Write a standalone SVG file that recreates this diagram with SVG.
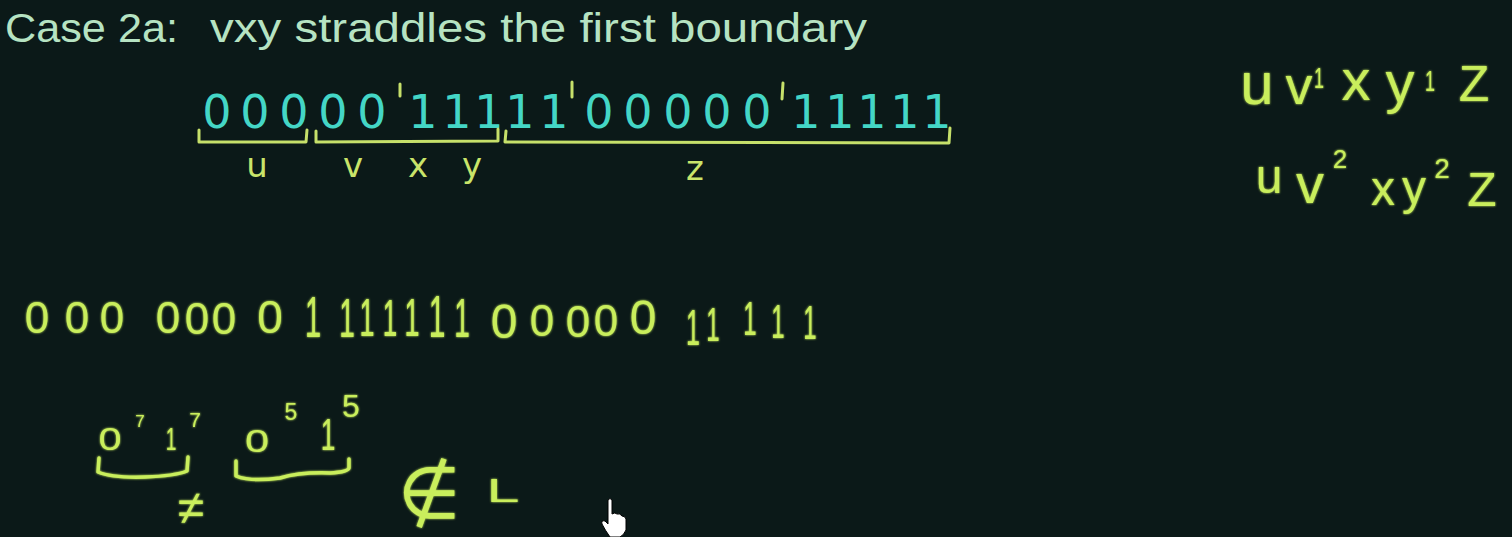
<svg xmlns="http://www.w3.org/2000/svg" width="1512" height="537" viewBox="0 0 1512 537">
<defs>
<filter id="glow" x="-20%" y="-20%" width="140%" height="140%">
<feGaussianBlur stdDeviation="1.2" result="b"/>
<feMerge><feMergeNode in="b"/><feMergeNode in="SourceGraphic"/></feMerge>
</filter>
<style>
.title{font-family:"Liberation Sans","DejaVu Sans",sans-serif;font-size:40px;fill:#b6e3c2}
.cy{font-family:"DejaVu Sans","Liberation Sans",sans-serif;font-size:46px;fill:#44d6c6;text-anchor:middle}
.lb{font-family:"DejaVu Sans","Liberation Sans",sans-serif;font-size:34px;fill:#c9e46a;text-anchor:middle}
.hw{font-family:"Liberation Sans","DejaVu Sans",sans-serif;fill:#c9ee5c;text-anchor:middle}
.br{fill:none;stroke:#c6e06a;stroke-width:3;stroke-linejoin:round;stroke-linecap:round}
.hb{fill:none;stroke:#c9ee5c;stroke-width:3.5;stroke-linejoin:round;stroke-linecap:round}
</style>
</defs>
<rect width="1512" height="537" fill="#0b1918"/>

<g id="title">
<text class="title" x="5" y="42" textLength="173" lengthAdjust="spacingAndGlyphs">Case 2a:</text>
<text class="title" x="210" y="42" textLength="657" lengthAdjust="spacingAndGlyphs">vxy straddles the first boundary</text>
</g>

<g id="string">
<text class="cy" x="217" y="128">0</text>
<text class="cy" x="255" y="128">0</text>
<text class="cy" x="294" y="128">0</text>
<text class="cy" x="333" y="128">0</text>
<text class="cy" x="372" y="128">0</text>
<text class="cy" x="423" y="128">1</text>
<text class="cy" x="457" y="128">1</text>
<text class="cy" x="489" y="128">1</text>
<text class="cy" x="520" y="128">1</text>
<text class="cy" x="554" y="128">1</text>
<text class="cy" x="599" y="128">0</text>
<text class="cy" x="638" y="128">0</text>
<text class="cy" x="678" y="128">0</text>
<text class="cy" x="717" y="128">0</text>
<text class="cy" x="757" y="128">0</text>
<text class="cy" x="806" y="128">1</text>
<text class="cy" x="840" y="128">1</text>
<text class="cy" x="872" y="128">1</text>
<text class="cy" x="905" y="128">1</text>
<text class="cy" x="937" y="128">1</text>
</g>

<g id="ticks">
<path class="br" d="M400,84 L400,96 M572,82 L572,97 M783,83 L782,99"/>
</g>

<g id="brackets">
<path class="br" d="M199,130 L199,142 L306,142 L307,130"/>
<path class="br" d="M316,131 L316,142 L498,141 L498,129"/>
<path class="br" d="M506,131 L505,142 L949,143 L950,128"/>
</g>

<g id="labels">
<text class="lb" x="257" y="177">u</text>
<text class="lb" x="353" y="177">v</text>
<text class="lb" x="418" y="177">x</text>
<text class="lb" x="472" y="177">y</text>
<text class="lb" x="695" y="180">z</text>
</g>

<g id="formula1" filter="url(#glow)">
<text class="hw" x="1257" y="104" font-size="60">u</text>
<text class="hw" x="1299" y="104" font-size="54">v</text>
<text class="hw" transform="translate(1319,88) scale(0.6,1)" font-size="30">1</text>
<text class="hw" x="1356" y="100" font-size="58">x</text>
<text class="hw" x="1400" y="102" font-size="58">y</text>
<text class="hw" transform="translate(1430,91) scale(0.6,1)" font-size="30">1</text>
<text class="hw" x="1474" y="101" font-size="50">Z</text>
</g>

<g id="formula2" filter="url(#glow)">
<text class="hw" x="1269" y="193" font-size="48">u</text>
<text class="hw" x="1310" y="203" font-size="56">v</text>
<text class="hw" x="1340" y="168" font-size="26">2</text>
<text class="hw" x="1383" y="205" font-size="48">x</text>
<text class="hw" x="1414" y="204" font-size="48">y</text>
<text class="hw" x="1442" y="178" font-size="28">2</text>
<text class="hw" x="1482" y="206" font-size="48">Z</text>
</g>

<g id="row" filter="url(#glow)" font-size="44">
<text class="hw" x="37" y="333">0</text>
<text class="hw" x="77" y="333">0</text>
<text class="hw" x="112" y="333">0</text>
<text class="hw" x="168" y="333">0</text>
<text class="hw" x="197" y="334">0</text>
<text class="hw" x="224" y="334">0</text>
<text class="hw" x="270" y="333" font-size="46">0</text>
<text class="hw" transform="translate(313,337) scale(0.5,1)" font-size="58">1</text>
<text class="hw" transform="translate(347,337) scale(0.5,1)" font-size="56">1</text>
<text class="hw" transform="translate(367,336) scale(0.5,1)" font-size="54">1</text>
<text class="hw" transform="translate(390,336) scale(0.5,1)" font-size="52">1</text>
<text class="hw" transform="translate(412,336) scale(0.5,1)" font-size="54">1</text>
<text class="hw" transform="translate(437,337) scale(0.5,1)" font-size="60">1</text>
<text class="hw" transform="translate(462,337) scale(0.5,1)" font-size="56">1</text>
<text class="hw" x="504" y="338" font-size="48">0</text>
<text class="hw" x="542" y="336">0</text>
<text class="hw" x="578" y="337">0</text>
<text class="hw" x="606" y="336">0</text>
<text class="hw" x="643" y="334" font-size="48">0</text>
<text class="hw" transform="translate(693,345) scale(0.5,1)" font-size="50">1</text>
<text class="hw" transform="translate(713,341) scale(0.5,1)" font-size="48">1</text>
<text class="hw" transform="translate(750,335) scale(0.5,1)" font-size="48">1</text>
<text class="hw" transform="translate(778,338) scale(0.5,1)" font-size="48">1</text>
<text class="hw" transform="translate(810,339) scale(0.5,1)" font-size="48">1</text>
</g>

<g id="powers" filter="url(#glow)">
<text class="hw" transform="translate(110,450) scale(1.3,1)" font-size="32">0</text>
<text class="hw" x="140" y="427" font-size="17">7</text>
<text class="hw" transform="translate(171,450) scale(0.6,1)" font-size="32">1</text>
<text class="hw" x="195" y="427" font-size="21">7</text>
<text class="hw" transform="translate(257,452) scale(1.4,1)" font-size="31">0</text>
<text class="hw" x="291" y="420" font-size="23">5</text>
<text class="hw" transform="translate(328,450) scale(0.6,1)" font-size="44">1</text>
<text class="hw" x="351" y="417" font-size="32">5</text>
</g>

<g id="lower-brackets" filter="url(#glow)">
<path class="hb" d="M99,458 L98,472 Q112,478 145,477 Q175,476 187,471 L188,457"/>
<path class="hb" d="M236,461 L236,476 Q250,482 280,478 Q300,472 330,473 Q348,472 349,468 L349,459"/>
</g>

<g id="neq" filter="url(#glow)">
<text class="hw" x="191" y="524" font-size="48">≠</text>
</g>

<g id="notin" filter="url(#glow)">
<text class="hw" x="429" y="518" font-size="72">∉</text>
<text class="hw" transform="translate(503,502) scale(1.8,1)" font-size="33">L</text>
</g>

<g id="cursor">
<path d="M608,500 Q610,497 612,500 L612,514 Q615,512 617,514 Q620,513 622,516 Q625,516 626,519 L626,530 Q624,535 620,537 L610,537 Q605,530 602,524 Q601,520 605,521 L608,524 Z" fill="#ffffff" stroke="#000" stroke-width="1"/>
</g>
</svg>
